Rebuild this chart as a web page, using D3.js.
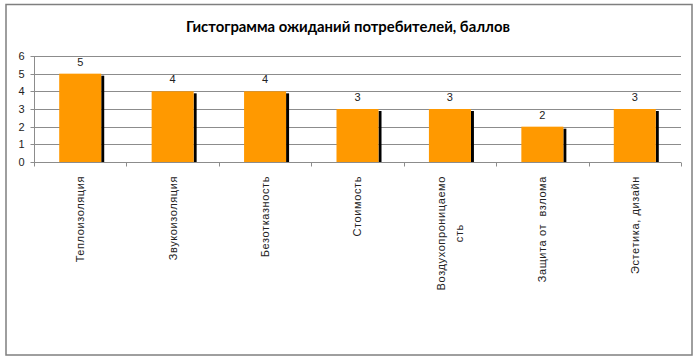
<!DOCTYPE html>
<html><head><meta charset="utf-8">
<script src="https://cdn.jsdelivr.net/npm/d3@7"></script>
<style>body{margin:0;background:#fff}svg{display:block}text{white-space:pre}</style>
</head><body>
<svg id="c" width="697" height="360"></svg>
<script>
const categories = [["Теплоизоляция"],["Звукоизоляция"],["Безотказность"],["Стоимость"],["Воздухопроницаемо","сть"],["Защита от  взлома"],["Эстетика, дизайн"]];
const values = [5,4,4,3,3,2,3];
const yTicks = [0,1,2,3,4,5,6];
const title = "Гистограмма ожиданий потребителей, баллов";

const svg = d3.select("#c");
const W = 697, H = 360;
const plot = {left:34, right:681, top:56, bottom:162};

svg.append("rect").attr("x",6).attr("y",4.5).attr("width",686).attr("height",350.5)
  .attr("fill","#fff").attr("stroke","#7f7f7f").attr("stroke-width",1.5);

const t = svg.append("text").attr("x",348).attr("y",32).attr("text-anchor","middle")
  .attr("font-family","Lato, 'Open Sans', sans-serif").attr("font-weight","bold")
  .attr("font-size",14).attr("fill","#000").text(title);
const tl = t.node().getComputedTextLength();
t.attr("font-size", 14*324/tl);

const x = d3.scaleBand().domain(d3.range(categories.length)).range([plot.left, plot.right]).padding(0);
const y = d3.scaleLinear().domain([0,6]).range([plot.bottom, plot.top]);

// gridlines
svg.append("g").selectAll("line").data(yTicks.filter(d=>d>0)).join("line")
  .attr("x1",plot.left).attr("x2",plot.right)
  .attr("y1",d=>Math.round(y(d))+0.5).attr("y2",d=>Math.round(y(d))+0.5)
  .attr("stroke","#8c8c8c").attr("stroke-width",1);

// y axis
const ya = svg.append("g").attr("transform",`translate(${plot.left+0.5},0)`)
  .call(d3.axisLeft(y).tickValues(yTicks).tickSize(4).tickPadding(6).tickFormat(d3.format("d")));
ya.select(".domain").attr("stroke","#8c8c8c").attr("d",`M0,${plot.top}V${plot.bottom}`);
ya.selectAll(".tick line").attr("stroke","#8c8c8c");
ya.selectAll(".tick").attr("transform",d=>`translate(0,${Math.round(y(d))+0.5})`);
ya.selectAll("text").attr("font-family","'Liberation Sans', Arial, sans-serif").attr("font-size",11).attr("fill","#222");

// bars
const bw = x.bandwidth()/2.2;
const g = svg.append("g");
g.selectAll("rect.sh").data(values).join("rect").attr("class","sh")
  .attr("x",(d,i)=>x(i)+x.bandwidth()/2+bw/2).attr("width",3)
  .attr("y",d=>y(d)+2).attr("height",d=>plot.bottom-y(d)-2).attr("fill","#000");
g.selectAll("rect.b").data(values).join("rect").attr("class","b")
  .attr("x",(d,i)=>x(i)+x.bandwidth()/2-bw/2).attr("width",bw)
  .attr("y",d=>y(d)).attr("height",d=>plot.bottom-y(d)).attr("fill","#ff9900");

// value labels
g.selectAll("text.v").data(values).join("text").attr("class","v")
  .attr("x",(d,i)=>x(i)+x.bandwidth()/2).attr("y",d=>y(d)-8)
  .attr("text-anchor","middle").attr("font-family","'Liberation Sans', Arial, sans-serif")
  .attr("font-size",11).attr("fill","#222").text(d=>d);

// x axis
const xa = svg.append("g").attr("transform",`translate(0,${plot.bottom+0.5})`);
xa.append("line").attr("x1",plot.left).attr("x2",plot.right).attr("stroke","#8c8c8c");
xa.selectAll("line.tk").data(d3.range(categories.length+1)).join("line").attr("class","tk")
  .attr("x1",i=>Math.round(plot.left + i*x.step())+0.5).attr("x2",i=>Math.round(plot.left + i*x.step())+0.5)
  .attr("y1",0).attr("y2",4).attr("stroke","#8c8c8c");

// category labels
const lh = 18;
categories.forEach((lines,i)=>{
  const cx = x(i)+x.bandwidth()/2;
  const grp = svg.append("g");
  const txt = grp.append("text").attr("font-family","'Liberation Sans', Arial, sans-serif")
    .attr("font-size",11).attr("fill","#222").attr("letter-spacing","0.6")
    .attr("text-anchor","middle");
  lines.forEach((ln,j)=>{
    txt.append("tspan").attr("x",0).attr("y",(j-(lines.length-1)/2)*lh).attr("dy","0.35em").text(ln);
  });
  let maxLen = 0;
  txt.selectAll("tspan").each(function(){maxLen=Math.max(maxLen,this.getComputedTextLength());});
  grp.attr("transform",`translate(${cx},${176+maxLen/2}) rotate(-90)`);
});
</script>
</body></html>
